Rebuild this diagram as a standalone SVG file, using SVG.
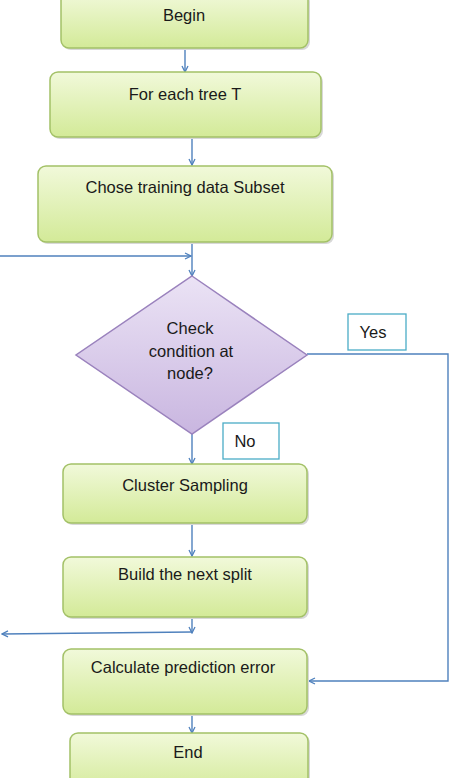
<svg xmlns="http://www.w3.org/2000/svg" width="454" height="778" viewBox="0 0 454 778">
<defs>
<linearGradient id="gg" x1="0" y1="0" x2="0" y2="1">
<stop offset="0" stop-color="#f1f9da"/>
<stop offset="1" stop-color="#d3ea98"/>
</linearGradient>
<linearGradient id="pg" x1="0" y1="0" x2="0" y2="1">
<stop offset="0" stop-color="#ebe3f5"/>
<stop offset="1" stop-color="#c9b6e0"/>
</linearGradient>
<marker id="ah" markerWidth="8" markerHeight="8" refX="7" refY="4" orient="auto" markerUnits="userSpaceOnUse">
<path d="M1,1 L7,4 L1,7" fill="none" stroke="#4f81bd" stroke-width="1.3"/>
</marker>
</defs>
<style>
.box{fill:url(#gg);stroke:#a3c167;stroke-width:1.5}
.sh{fill:#d8d8d8}
.dia{fill:url(#pg);stroke:#9a82bd;stroke-width:1.5}
.lbl{fill:#ffffff;stroke:#4bacc6;stroke-width:1.3}
.t{font-family:"Liberation Sans",Arial,sans-serif;font-size:16.5px;fill:#1a1a1a;text-anchor:middle}
.c{fill:none;stroke:#4f81bd;stroke-width:1.4}
</style>
<rect width="454" height="778" fill="#ffffff"/>
<g id="connectors">
<line class="c" x1="185" y1="48" x2="185" y2="72" marker-end="url(#ah)"/>
<line class="c" x1="192" y1="137" x2="192" y2="165" marker-end="url(#ah)"/>
<line class="c" x1="192" y1="242" x2="192" y2="276" marker-end="url(#ah)"/>
<polyline class="c" points="0,256 191,256" marker-end="url(#ah)"/>
<polyline class="c" points="307,354 448,354 448,681 309,681" marker-end="url(#ah)"/>
<line class="c" x1="192" y1="434" x2="192" y2="464" marker-end="url(#ah)"/>
<line class="c" x1="192" y1="523" x2="192" y2="556" marker-end="url(#ah)"/>
<line class="c" x1="192" y1="617" x2="192" y2="633" marker-end="url(#ah)"/>
<polyline class="c" points="192,632 2,634" marker-end="url(#ah)"/>
<line class="c" x1="192" y1="714" x2="192" y2="733" marker-end="url(#ah)"/>
</g>
<g id="begin">
<rect class="sh" x="63" y="-6" width="247" height="56" rx="8"/>
<rect class="box" x="61" y="-8" width="247" height="56" rx="8"/>
<text class="t" x="184" y="21">Begin</text>
</g>
<g id="for-each">
<rect class="sh" x="52" y="74" width="271" height="65" rx="8"/>
<rect class="box" x="50" y="72" width="271" height="65" rx="8"/>
<text class="t" x="185" y="100">For each tree T</text>
</g>
<g id="chose">
<rect class="sh" x="40" y="168" width="294" height="76" rx="8"/>
<rect class="box" x="38" y="166" width="294" height="76" rx="8"/>
<text class="t" x="185" y="193">Chose training data Subset</text>
</g>
<g id="check">
<polygon class="dia" points="192,276 307,355 192,434 76,355"/>
<text class="t" x="190" y="334">Check</text>
<text class="t" x="191" y="357">condition at</text>
<text class="t" x="190" y="379">node?</text>
</g>
<g id="yes">
<rect class="lbl" x="348" y="314" width="58" height="36"/>
<text class="t" x="373" y="338">Yes</text>
</g>
<g id="no">
<rect class="lbl" x="223" y="423" width="56" height="36"/>
<text class="t" x="245" y="447">No</text>
</g>
<g id="cluster">
<rect class="sh" x="65" y="466" width="244" height="59" rx="8"/>
<rect class="box" x="63" y="464" width="244" height="59" rx="8"/>
<text class="t" x="185" y="491">Cluster Sampling</text>
</g>
<g id="build">
<rect class="sh" x="65" y="559" width="244" height="60" rx="8"/>
<rect class="box" x="63" y="557" width="244" height="60" rx="8"/>
<text class="t" x="185" y="580">Build the next split</text>
</g>
<g id="calculate">
<rect class="sh" x="65" y="651" width="244" height="65" rx="8"/>
<rect class="box" x="63" y="649" width="244" height="65" rx="8"/>
<text class="t" x="183" y="673">Calculate prediction error</text>
</g>
<g id="end">
<rect class="sh" x="72" y="735" width="238" height="60" rx="8"/>
<rect class="box" x="70" y="733" width="238" height="60" rx="8"/>
<text class="t" x="188" y="758">End</text>
</g>
</svg>
